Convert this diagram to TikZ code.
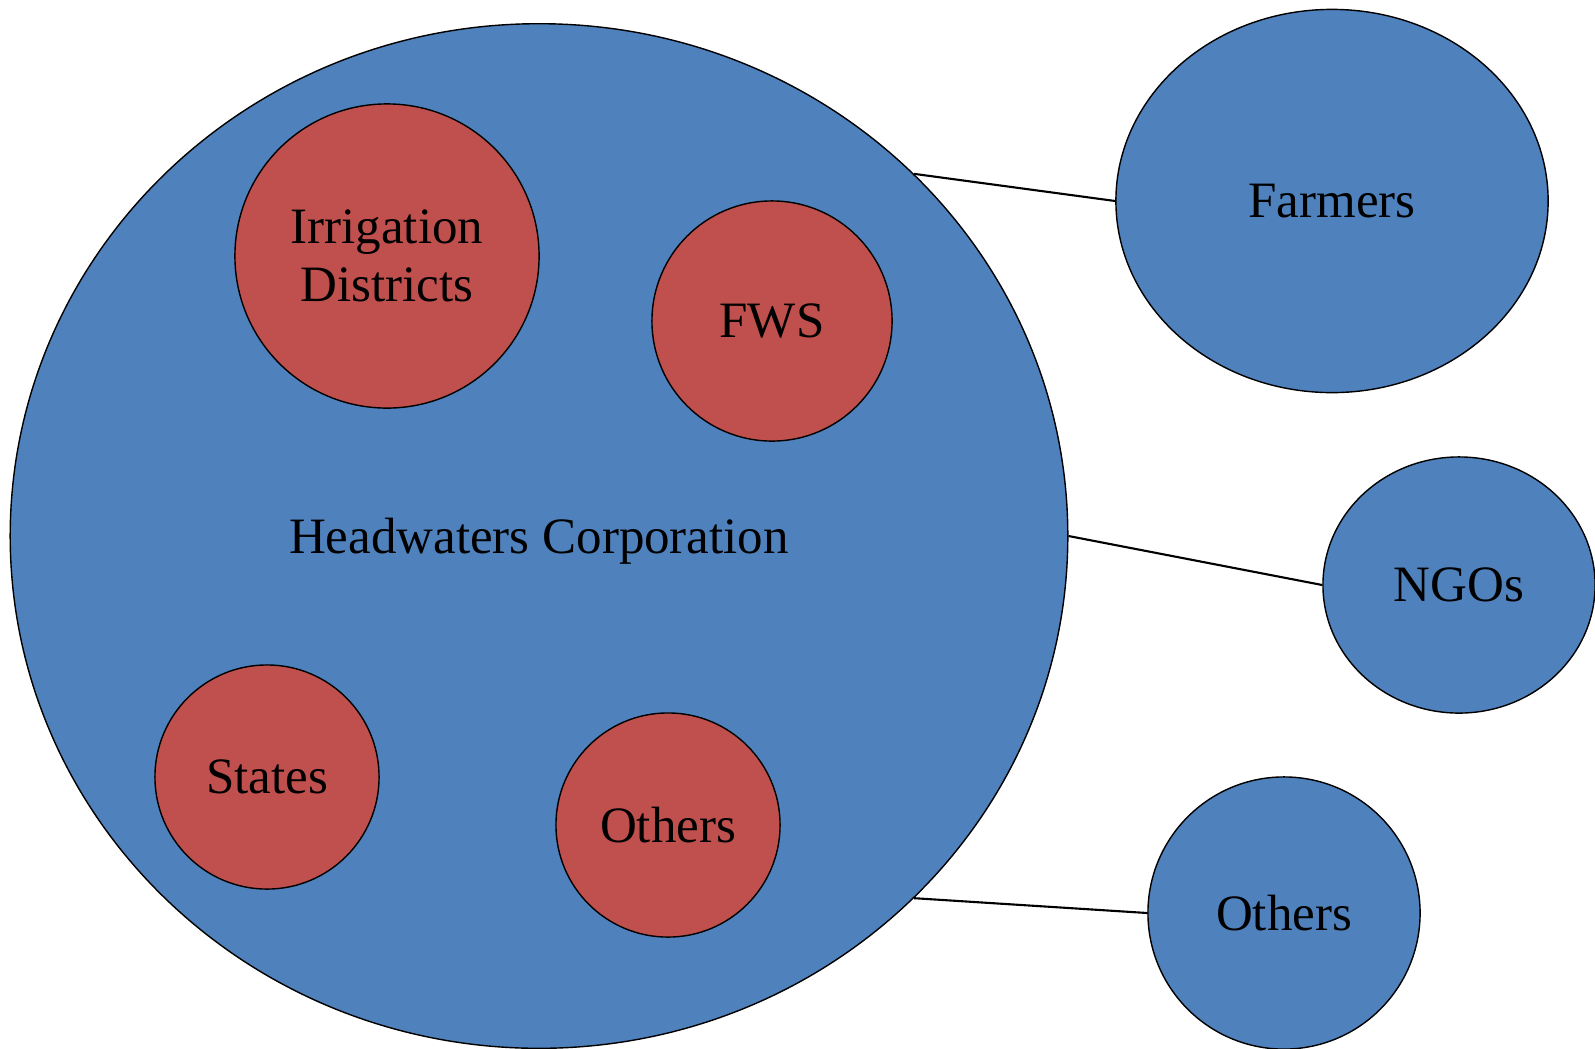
\documentclass[tikz,border=0pt]{standalone}
\usepackage{fontspec}
\setmainfont{Liberation Serif}
\usetikzlibrary{shapes.geometric}
\definecolor{hwblue}{HTML}{4F81BD}
\definecolor{hwred}{HTML}{C0504D}
\begin{document}
\begin{tikzpicture}[x=0.01cm, y=-0.01cm,
        group/.style={ellipse, draw, fill=hwblue, inner sep=0pt, align=center, font=\fontsize{14.5}{16.5}\selectfont},
        member/.style={ellipse, draw, fill=hwred, inner sep=0pt, align=center, font=\fontsize{14.5}{16.5}\selectfont},
        link/.style={line width=0.6pt}
    ]
        \useasboundingbox[fill=white] (0,0) rectangle (1595,1048);

        % Corporation
        \node[group, text depth=0pt, minimum width=10.57cm, minimum height=10.24cm] (corp) at (539,536) {Headwaters Corporation};

        % Members
        \node[member, minimum width=3.04cm, minimum height=3.04cm] (irrigation) at (387,256) {Irrigation\\Districts};

        \node[member, minimum width=2.4cm, minimum height=2.4cm] (fws) at (772,321) {FWS};

        \node[member, minimum width=2.24cm, minimum height=2.24cm] (states) at (267,777) {States};

        \node[member, minimum width=2.24cm, minimum height=2.24cm] (others) at (668,825) {Others};

        % Partners
        \node[group, minimum width=4.32cm, minimum height=3.83cm] (farmers) at (1332,201) {Farmers};

        \node[group, minimum width=2.72cm, minimum height=2.56cm] (ngos) at (1459,585) {NGOs};

        \node[group, minimum width=2.72cm, minimum height=2.72cm] (partners) at (1284,913) {Others};

        % Links
        \draw[link] (corp.44) -- (farmers.west);
        \draw[link] (corp.east) -- (ngos.west);
        \draw[link] (corp.-44) -- (partners.west);
    \end{tikzpicture}
\end{document}
